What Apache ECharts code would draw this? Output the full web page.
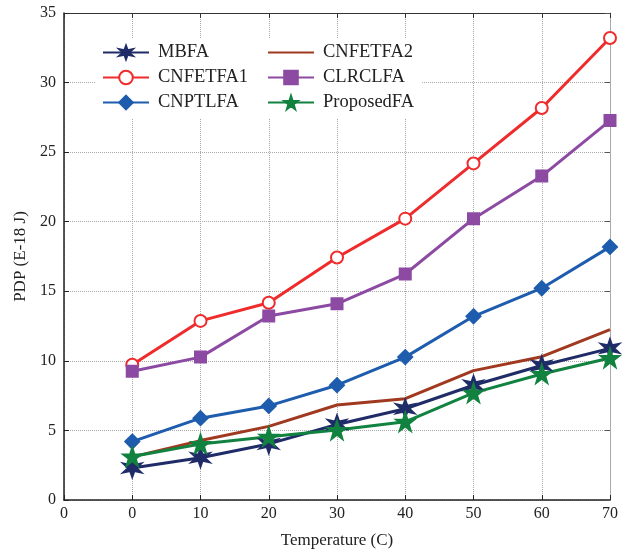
<!DOCTYPE html>
<html>
<head>
<meta charset="utf-8">
<script src="https://cdn.jsdelivr.net/npm/echarts@6/dist/echarts.min.js"></script>
<style>html,body{margin:0;padding:0;background:#fff}#c{width:622px;height:554px}</style>
</head>
<body>
<div id="c"></div>
<script>
var temperatures = [0, 10, 20, 30, 40, 50, 60, 70];
var xTickValues = [-10, 0, 10, 20, 30, 40, 50, 60, 70];
var xTickLabels = ['0', '0', '10', '20', '30', '40', '50', '60', '70'];
var MBFA = [2.3, 3.04, 4.03, 5.43, 6.56, 8.25, 9.67, 10.9];
var CNFETFA1 = [9.72, 12.87, 14.18, 17.43, 20.22, 24.19, 28.17, 33.2];
var CNPTLFA = [4.2, 5.88, 6.76, 8.25, 10.27, 13.2, 15.22, 18.19];
var CNFETFA2 = [3.1, 4.27, 5.29, 6.83, 7.28, 9.3, 10.3, 12.25];
var CLRCLFA = [9.25, 10.27, 13.23, 14.1, 16.24, 20.22, 23.28, 27.27];
var ProposedFA = [3.13, 4.03, 4.55, 5.03, 5.62, 7.7, 9.06, 10.2];

var pentagram = 'path://M50,0 L61.8,35.1 L98.1,35.1 L68.8,56.7 L79.4,90.5 L50,69.1 L20.6,90.5 L31.2,56.7 L1.9,35.1 L38.2,35.1 Z';
var hexagram = 'path://M50,0 L60,33 L93,25 L70,50 L93,75 L60,67 L50,100 L40,67 L7,75 L30,50 L7,25 L40,33 Z';

function pairs(vals) { return temperatures.map(function (t, i) { return [t, vals[i]]; }); }

var font = 'Liberation Serif';
function mk(name, vals, color, symbol, size, bw) {
  return {
    name: name, type: 'line', data: pairs(vals),
    symbol: symbol, symbolSize: size, showSymbol: symbol !== 'none',
    lineStyle: { color: color, width: 3 },
    itemStyle: { color: color, borderColor: color, borderWidth: bw || 2 },
    emphasis: { disabled: true }, animation: false
  };
}

var chart = echarts.init(document.getElementById('c'));
var gridLine = { show: true, lineStyle: { color: '#a8a8a8', type: [1, 1], width: 1 } };
var legendText = { fontFamily: font, fontSize: 18.5, color: '#222', padding: [0, 0, 0, 4] };
chart.setOption({
  backgroundColor: '#fff',
  animation: false,
  grid: { left: 64, right: 12, top: 13, bottom: 49 },
  xAxis: [{
    type: 'value', min: -10, max: 70, interval: 10,
    name: 'Temperature (C)', nameLocation: 'middle', nameGap: 32,
    nameTextStyle: { fontFamily: font, fontSize: 17, color: '#222' },
    axisLine: { show: true, onZero: false, lineStyle: { color: '#222', width: 1.5 } },
    axisTick: { show: true, inside: true, length: 5, lineStyle: { color: '#222' } },
    axisLabel: { fontFamily: font, fontSize: 16, color: '#222', margin: 6,
      formatter: function (v) { var i = xTickValues.indexOf(v); return i >= 0 ? xTickLabels[i] : ''; } },
    splitLine: gridLine
  }, {
    type: 'value', min: -10, max: 70, interval: 10, position: 'top',
    axisLine: { show: true, onZero: false, lineStyle: { color: '#333', width: 1 } },
    axisTick: { show: true, inside: true, length: 5, lineStyle: { color: '#333' } },
    axisLabel: { show: false }, splitLine: { show: false }
  }],
  yAxis: [{
    type: 'value', min: 0, max: 35, interval: 5,
    name: 'PDP (E-18 J)', nameLocation: 'middle', nameGap: 33,
    nameTextStyle: { fontFamily: font, fontSize: 17, color: '#222' },
    axisLine: { show: true, onZero: false, lineStyle: { color: '#222', width: 1.5 } },
    axisTick: { show: true, inside: true, length: 5, lineStyle: { color: '#222' } },
    axisLabel: { fontFamily: font, fontSize: 16, color: '#222', margin: 8 },
    splitLine: gridLine
  }, {
    type: 'value', min: 0, max: 35, interval: 5, position: 'right',
    axisLine: { show: true, onZero: false, lineStyle: { color: '#aaa', width: 1 } },
    axisTick: { show: true, inside: true, length: 5, lineStyle: { color: '#555' } },
    axisLabel: { show: false }, splitLine: { show: false }
  }],
  legend: [{
    left: 96, top: 39, orient: 'vertical', itemGap: 6, itemWidth: 46, itemHeight: 17,
    backgroundColor: '#fff', padding: [4, 14, 6, 6],
    textStyle: legendText,
    data: ['MBFA', 'CNFETFA1', 'CNPTLFA']
  }, {
    left: 261, top: 39, orient: 'vertical', itemGap: 6, itemWidth: 46, itemHeight: 17,
    backgroundColor: '#fff', padding: [4, 8, 6, 6],
    textStyle: legendText,
    data: [{ name: 'CNFETFA2', itemStyle: { opacity: 0 } }, 'CLRCLFA', 'ProposedFA']
  }],
  series: [
    mk('CNFETFA1', CNFETFA1, '#ef2b2b', 'emptyCircle', 12, 3),
    mk('CLRCLFA', CLRCLFA, '#8c4aa2', 'rect', 11),
    mk('CNPTLFA', CNPTLFA, '#1e5cae', 'diamond', 14),
    mk('CNFETFA2', CNFETFA2, '#a0391f', 'none', 0),
    mk('MBFA', MBFA, '#1f2c68', hexagram, 18),
    mk('ProposedFA', ProposedFA, '#11823f', pentagram, 18)
  ]
});
</script>
</body>
</html>
